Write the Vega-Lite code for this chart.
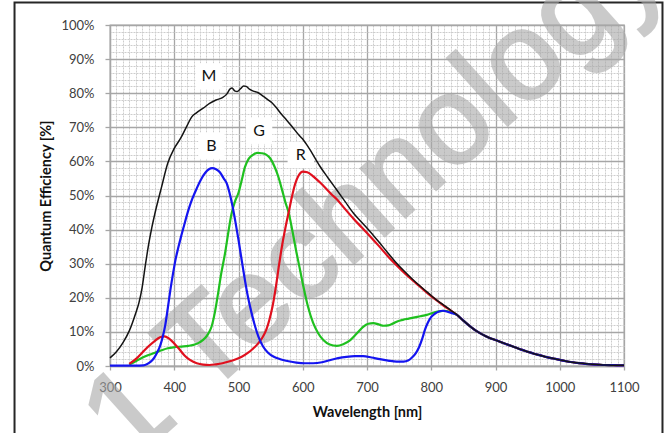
{
  "$schema": "https://vega.github.io/schema/vega-lite/v6.json",
  "width": 514,
  "height": 341,
  "autosize": {"type": "none"},
  "padding": {"left": 110, "top": 25, "right": 43, "bottom": 67},
  "background": "white",
  "config": {"view": {"stroke": "#a6a6a6", "strokeWidth": 1.3}},
  "datasets": {
    "one": [{"k": 1}],
    "labels": [
      {"L": "M", "w": 454, "q": 84.9},
      {"L": "B", "w": 458, "q": 64.6},
      {"L": "G", "w": 532, "q": 69},
      {"L": "R", "w": 597, "q": 61.9}
    ],
    "qe": [
      {"s":"M","w":300,"q":2.4},{"s":"M","w":310,"q":4.2},{"s":"M","w":320,"q":6.8},{"s":"M","w":330,"q":10.3},{"s":"M","w":340,"q":15.5},{"s":"M","w":345,"q":18.5},{"s":"M","w":350,"q":23},{"s":"M","w":355,"q":29.5},{"s":"M","w":360,"q":35.5},{"s":"M","w":365,"q":40.5},{"s":"M","w":370,"q":44.8},{"s":"M","w":380,"q":52.3},{"s":"M","w":390,"q":59.5},{"s":"M","w":400,"q":63.8},{"s":"M","w":410,"q":66.8},{"s":"M","w":420,"q":70.5},{"s":"M","w":427,"q":73},{"s":"M","w":435,"q":74.3},{"s":"M","w":445,"q":75.6},{"s":"M","w":455,"q":77},{"s":"M","w":465,"q":78},{"s":"M","w":475,"q":78.7},{"s":"M","w":482,"q":79.8},{"s":"M","w":487,"q":81.3},{"s":"M","w":490,"q":81.5},{"s":"M","w":494,"q":80.7},{"s":"M","w":498,"q":80.5},{"s":"M","w":503,"q":81.3},{"s":"M","w":508,"q":82.1},{"s":"M","w":512,"q":82},{"s":"M","w":517,"q":81.2},{"s":"M","w":523,"q":80.6},{"s":"M","w":530,"q":80.2},{"s":"M","w":537,"q":79.3},{"s":"M","w":545,"q":78.2},{"s":"M","w":552,"q":77.2},{"s":"M","w":560,"q":75.5},{"s":"M","w":567,"q":73.8},{"s":"M","w":575,"q":72.1},{"s":"M","w":585,"q":69.8},{"s":"M","w":595,"q":67.5},{"s":"M","w":601,"q":66.3},{"s":"M","w":610,"q":63.8},{"s":"M","w":620,"q":60.7},{"s":"M","w":627,"q":58.5},{"s":"M","w":640,"q":55},{"s":"M","w":653,"q":51.6},{"s":"M","w":666,"q":48.2},{"s":"M","w":679,"q":44.8},{"s":"M","w":692,"q":42.1},{"s":"M","w":705,"q":39.4},{"s":"M","w":718,"q":36.5},{"s":"M","w":731,"q":33.5},{"s":"M","w":744,"q":30.6},{"s":"M","w":757,"q":28},{"s":"M","w":770,"q":25.6},{"s":"M","w":783,"q":23.4},{"s":"M","w":796,"q":21.3},{"s":"M","w":808,"q":19.4},{"s":"M","w":820,"q":17.8},{"s":"M","w":830,"q":16.4},{"s":"M","w":840,"q":15},
      {"s":"M","w":850,"q":13.3},{"s":"M","w":860,"q":11.7},{"s":"M","w":870,"q":10.3},{"s":"M","w":880,"q":9.2},{"s":"M","w":890,"q":8.3},{"s":"M","w":900,"q":7.6},{"s":"M","w":910,"q":6.9},{"s":"M","w":920,"q":6.2},{"s":"M","w":930,"q":5.5},{"s":"M","w":940,"q":4.8},{"s":"M","w":950,"q":4.2},{"s":"M","w":960,"q":3.6},{"s":"M","w":970,"q":3.1},{"s":"M","w":980,"q":2.6},{"s":"M","w":990,"q":2.2},{"s":"M","w":1000,"q":1.8},{"s":"M","w":1010,"q":1.4},{"s":"M","w":1020,"q":1.1},{"s":"M","w":1030,"q":0.85},{"s":"M","w":1040,"q":0.65},{"s":"M","w":1050,"q":0.5},{"s":"M","w":1060,"q":0.4},{"s":"M","w":1070,"q":0.3},{"s":"M","w":1080,"q":0.25},{"s":"M","w":1090,"q":0.2},{"s":"M","w":1100,"q":0.2},
      {"s":"R","w":330,"q":0.6},{"s":"R","w":340,"q":2.0},{"s":"R","w":350,"q":3.9},{"s":"R","w":360,"q":5.8},{"s":"R","w":370,"q":7.4},{"s":"R","w":378,"q":8.4},{"s":"R","w":385,"q":8.7},{"s":"R","w":392,"q":8.0},{"s":"R","w":400,"q":6.6},{"s":"R","w":408,"q":4.9},{"s":"R","w":416,"q":3.1},{"s":"R","w":425,"q":1.7},{"s":"R","w":435,"q":0.8},{"s":"R","w":445,"q":0.4},{"s":"R","w":455,"q":0.3},{"s":"R","w":465,"q":0.5},{"s":"R","w":475,"q":0.8},{"s":"R","w":485,"q":1.3},{"s":"R","w":495,"q":1.9},{"s":"R","w":505,"q":2.7},{"s":"R","w":515,"q":3.9},{"s":"R","w":522,"q":5.0},{"s":"R","w":530,"q":6.5},{"s":"R","w":537,"q":8.3},{"s":"R","w":543,"q":10.5},{"s":"R","w":548,"q":13.5},{"s":"R","w":553,"q":17.5},{"s":"R","w":558,"q":23},{"s":"R","w":563,"q":29.5},{"s":"R","w":568,"q":35.5},{"s":"R","w":573,"q":40.5},{"s":"R","w":578,"q":45},{"s":"R","w":583,"q":49.5},{"s":"R","w":588,"q":53.3},{"s":"R","w":594,"q":56},{"s":"R","w":600,"q":57},{"s":"R","w":607,"q":56.8},{"s":"R","w":614,"q":56},{"s":"R","w":620,"q":55},{"s":"R","w":627,"q":53.8},{"s":"R","w":635,"q":52.3},{"s":"R","w":645,"q":50.3},{"s":"R","w":653,"q":48.9},{"s":"R","w":666,"q":46},{"s":"R","w":679,"q":43.2},{"s":"R","w":692,"q":40.6},{"s":"R","w":705,"q":38},{"s":"R","w":718,"q":35.3},{"s":"R","w":731,"q":32.5},{"s":"R","w":744,"q":29.9},{"s":"R","w":757,"q":27.5},{"s":"R","w":770,"q":25.3},{"s":"R","w":783,"q":23.2},{"s":"R","w":796,"q":21.1},{"s":"R","w":808,"q":19.3},{"s":"R","w":820,"q":17.6},{"s":"R","w":830,"q":16.3},{"s":"R","w":840,"q":15},
      {"s":"R","w":850,"q":13.3},{"s":"R","w":860,"q":11.7},{"s":"R","w":870,"q":10.3},{"s":"R","w":880,"q":9.2},{"s":"R","w":890,"q":8.3},{"s":"R","w":900,"q":7.6},{"s":"R","w":910,"q":6.9},{"s":"R","w":920,"q":6.2},{"s":"R","w":930,"q":5.5},{"s":"R","w":940,"q":4.8},{"s":"R","w":950,"q":4.2},{"s":"R","w":960,"q":3.6},{"s":"R","w":970,"q":3.1},{"s":"R","w":980,"q":2.6},{"s":"R","w":990,"q":2.2},{"s":"R","w":1000,"q":1.8},{"s":"R","w":1010,"q":1.4},{"s":"R","w":1020,"q":1.1},{"s":"R","w":1030,"q":0.85},{"s":"R","w":1040,"q":0.65},{"s":"R","w":1050,"q":0.5},{"s":"R","w":1060,"q":0.4},{"s":"R","w":1070,"q":0.3},{"s":"R","w":1080,"q":0.25},{"s":"R","w":1090,"q":0.2},{"s":"R","w":1100,"q":0.2},
      {"s":"G","w":330,"q":0.4},{"s":"G","w":340,"q":1.4},{"s":"G","w":350,"q":2.4},{"s":"G","w":360,"q":3.2},{"s":"G","w":370,"q":3.9},{"s":"G","w":380,"q":4.6},{"s":"G","w":390,"q":5.2},{"s":"G","w":400,"q":5.5},{"s":"G","w":411,"q":5.7},{"s":"G","w":422,"q":5.9},{"s":"G","w":432,"q":6.3},{"s":"G","w":440,"q":7},{"s":"G","w":448,"q":8.2},{"s":"G","w":453,"q":9.5},{"s":"G","w":458,"q":11.5},{"s":"G","w":463,"q":15.5},{"s":"G","w":468,"q":21},{"s":"G","w":473,"q":27},{"s":"G","w":479,"q":33},{"s":"G","w":484,"q":39},{"s":"G","w":489,"q":44.5},{"s":"G","w":495,"q":48.5},{"s":"G","w":500,"q":50.8},{"s":"G","w":505,"q":54.5},{"s":"G","w":510,"q":58.3},{"s":"G","w":516,"q":60.8},{"s":"G","w":523,"q":62},{"s":"G","w":530,"q":62.5},{"s":"G","w":536,"q":62.4},{"s":"G","w":543,"q":62},{"s":"G","w":549,"q":61},{"s":"G","w":556,"q":58.5},{"s":"G","w":562,"q":55.5},{"s":"G","w":568,"q":51.5},{"s":"G","w":573,"q":48},{"s":"G","w":578,"q":45},{"s":"G","w":584,"q":39.5},{"s":"G","w":590,"q":33.5},{"s":"G","w":596,"q":28},{"s":"G","w":601,"q":23.3},{"s":"G","w":608,"q":17.5},{"s":"G","w":616,"q":12.7},{"s":"G","w":624,"q":9.6},{"s":"G","w":632,"q":7.6},{"s":"G","w":642,"q":6.3},{"s":"G","w":653,"q":5.9},{"s":"G","w":663,"q":6.4},{"s":"G","w":674,"q":7.6},{"s":"G","w":684,"q":9.5},{"s":"G","w":694,"q":11.5},{"s":"G","w":702,"q":12.4},{"s":"G","w":710,"q":12.6},{"s":"G","w":718,"q":12.2},{"s":"G","w":726,"q":11.8},{"s":"G","w":733,"q":11.9},{"s":"G","w":741,"q":12.5},{"s":"G","w":749,"q":13.2},{"s":"G","w":757,"q":13.6},{"s":"G","w":765,"q":13.9},{"s":"G","w":772,"q":14.2},{"s":"G","w":783,"q":14.6},{"s":"G","w":793,"q":15},{"s":"G","w":803,"q":15.6},{"s":"G","w":812,"q":16},{"s":"G","w":820,"q":16.2},{"s":"G","w":830,"q":15.8},{"s":"G","w":840,"q":15},
      {"s":"G","w":850,"q":13.3},{"s":"G","w":860,"q":11.7},{"s":"G","w":870,"q":10.3},{"s":"G","w":880,"q":9.2},{"s":"G","w":890,"q":8.3},{"s":"G","w":900,"q":7.6},{"s":"G","w":910,"q":6.9},{"s":"G","w":920,"q":6.2},{"s":"G","w":930,"q":5.5},{"s":"G","w":940,"q":4.8},{"s":"G","w":950,"q":4.2},{"s":"G","w":960,"q":3.6},{"s":"G","w":970,"q":3.1},{"s":"G","w":980,"q":2.6},{"s":"G","w":990,"q":2.2},{"s":"G","w":1000,"q":1.8},{"s":"G","w":1010,"q":1.4},{"s":"G","w":1020,"q":1.1},{"s":"G","w":1030,"q":0.85},{"s":"G","w":1040,"q":0.65},{"s":"G","w":1050,"q":0.5},{"s":"G","w":1060,"q":0.4},{"s":"G","w":1070,"q":0.3},{"s":"G","w":1080,"q":0.25},{"s":"G","w":1090,"q":0.2},{"s":"G","w":1100,"q":0.2},
      {"s":"B","w":300,"q":0.1},{"s":"B","w":320,"q":0.1},{"s":"B","w":340,"q":0.1},{"s":"B","w":352,"q":0.2},{"s":"B","w":358,"q":0.6},{"s":"B","w":363,"q":1.2},{"s":"B","w":368,"q":2.2},{"s":"B","w":373,"q":3.8},{"s":"B","w":378,"q":5.9},{"s":"B","w":382,"q":8.5},{"s":"B","w":386,"q":12},{"s":"B","w":390,"q":17},{"s":"B","w":394,"q":22.3},{"s":"B","w":398,"q":27},{"s":"B","w":402,"q":31.2},{"s":"B","w":406,"q":34.5},{"s":"B","w":410,"q":37.5},{"s":"B","w":415,"q":41},{"s":"B","w":422,"q":45.7},{"s":"B","w":428,"q":49},{"s":"B","w":435,"q":52.1},{"s":"B","w":441,"q":54.5},{"s":"B","w":448,"q":56.6},{"s":"B","w":454,"q":57.7},{"s":"B","w":459,"q":58},{"s":"B","w":465,"q":57.7},{"s":"B","w":471,"q":56.8},{"s":"B","w":477,"q":55},{"s":"B","w":482,"q":53.4},{"s":"B","w":486,"q":50.8},{"s":"B","w":490,"q":47.5},{"s":"B","w":495,"q":42.5},{"s":"B","w":500,"q":37},{"s":"B","w":505,"q":31},{"s":"B","w":510,"q":25.2},{"s":"B","w":515,"q":20},{"s":"B","w":520,"q":15.8},{"s":"B","w":526,"q":11.5},{"s":"B","w":531,"q":8.6},{"s":"B","w":538,"q":5.8},{"s":"B","w":546,"q":3.9},{"s":"B","w":555,"q":2.7},{"s":"B","w":565,"q":2.0},{"s":"B","w":578,"q":1.4},{"s":"B","w":590,"q":1.0},{"s":"B","w":603,"q":0.8},{"s":"B","w":616,"q":0.8},{"s":"B","w":630,"q":1.1},{"s":"B","w":642,"q":1.7},{"s":"B","w":655,"q":2.3},{"s":"B","w":668,"q":2.7},{"s":"B","w":681,"q":2.9},{"s":"B","w":694,"q":2.9},{"s":"B","w":707,"q":2.5},{"s":"B","w":720,"q":2.0},{"s":"B","w":733,"q":1.6},{"s":"B","w":746,"q":1.3},{"s":"B","w":757,"q":1.3},{"s":"B","w":764,"q":1.6},{"s":"B","w":770,"q":2.5},{"s":"B","w":776,"q":3.8},{"s":"B","w":781,"q":5.5},{"s":"B","w":786,"q":8},{"s":"B","w":790,"q":10.5},{"s":"B","w":795,"q":12.8},{"s":"B","w":800,"q":14.4},{"s":"B","w":806,"q":15.4},{"s":"B","w":812,"q":16},{"s":"B","w":818,"q":16.2},{"s":"B","w":824,"q":16},{"s":"B","w":830,"q":15.6},{"s":"B","w":840,"q":15},
      {"s":"B","w":850,"q":13.3},{"s":"B","w":860,"q":11.7},{"s":"B","w":870,"q":10.3},{"s":"B","w":880,"q":9.2},{"s":"B","w":890,"q":8.3},{"s":"B","w":900,"q":7.6},{"s":"B","w":910,"q":6.9},{"s":"B","w":920,"q":6.2},{"s":"B","w":930,"q":5.5},{"s":"B","w":940,"q":4.8},{"s":"B","w":950,"q":4.2},{"s":"B","w":960,"q":3.6},{"s":"B","w":970,"q":3.1},{"s":"B","w":980,"q":2.6},{"s":"B","w":990,"q":2.2},{"s":"B","w":1000,"q":1.8},{"s":"B","w":1010,"q":1.4},{"s":"B","w":1020,"q":1.1},{"s":"B","w":1030,"q":0.85},{"s":"B","w":1040,"q":0.65},{"s":"B","w":1050,"q":0.5},{"s":"B","w":1060,"q":0.4},{"s":"B","w":1070,"q":0.3},{"s":"B","w":1080,"q":0.25},{"s":"B","w":1090,"q":0.2},{"s":"B","w":1100,"q":0.2}
    ]
  },
  "resolve": {"axis": {"x": "independent", "y": "independent"}},
  "layer": [
    {
      "data": {"name": "one"},
      "mark": {"type": "rect", "fill": null, "stroke": "#262626", "strokeWidth": 2},
      "encoding": {
        "x": {"datum": 151.4, "type": "quantitative", "scale": {"domain": [300, 1100], "nice": false, "zero": false}, "axis": null},
        "x2": {"datum": 1159.9},
        "y": {"datum": 106.6, "type": "quantitative", "scale": {"domain": [0, 100], "nice": false}, "axis": null},
        "y2": {"datum": -30}
      }
    },
    {
      "data": {"name": "one"},
      "mark": {"type": "text", "font": "Liberation Sans", "fontSize": 124, "angle": -42, "align": "center", "baseline": "alphabetic", "fill": "#a8a8a8", "stroke": "#a8a8a8", "strokeWidth": 3, "opacity": 0.6},
      "encoding": {
        "x": {"datum": 751, "type": "quantitative", "scale": {"domain": [300, 1100], "nice": false, "zero": false}, "axis": null},
        "y": {"datum": 42.2, "type": "quantitative", "scale": {"domain": [0, 100], "nice": false}, "axis": null},
        "text": {"value": "1 Technology"}
      }
    },
    {
      "data": {"name": "labels"},
      "mark": {"type": "point", "shape": "square", "size": 700, "filled": true, "color": "white", "opacity": 1, "strokeWidth": 0},
      "encoding": {
        "x": {"field": "w", "type": "quantitative", "scale": {"domain": [300, 1100], "nice": false, "zero": false},
          "axis": {"orient": "top", "values": [310,320,330,340,350,360,370,380,390,410,420,430,440,450,460,470,480,490,510,520,530,540,550,560,570,580,590,610,620,630,640,650,660,670,680,690,710,720,730,740,750,760,770,780,790,810,820,830,840,850,860,870,880,890,910,920,930,940,950,960,970,980,990,1010,1020,1030,1040,1050,1060,1070,1080,1090],
            "grid": true, "gridColor": "#cdcdcd", "gridDash": [2, 1], "gridWidth": 1, "labels": false, "ticks": false, "domain": false, "title": null}},
        "y": {"field": "q", "type": "quantitative", "scale": {"domain": [0, 100], "nice": false},
          "axis": {"orient": "right", "values": [2,4,6,8,12,14,16,18,22,24,26,28,32,34,36,38,42,44,46,48,52,54,56,58,62,64,66,68,72,74,76,78,82,84,86,88,92,94,96,98],
            "grid": true, "gridColor": "#cdcdcd", "gridDash": [2, 1], "gridWidth": 1, "labels": false, "ticks": false, "domain": false, "title": null}}
      }
    },
    {
      "data": {"name": "qe"},
      "transform": [{"filter": "datum.s == 'G'"}],
      "mark": {"type": "line", "color": "#1fc01f", "strokeWidth": 2.2, "interpolate": "monotone"},
      "encoding": {
        "x": {"field": "w", "type": "quantitative", "scale": {"domain": [300, 1100], "nice": false, "zero": false}, "axis": null},
        "y": {"field": "q", "type": "quantitative", "scale": {"domain": [0, 100], "nice": false}, "axis": null}
      }
    },
    {
      "data": {"name": "qe"},
      "transform": [{"filter": "datum.s == 'R'"}],
      "mark": {"type": "line", "color": "#e0101e", "strokeWidth": 2.2, "interpolate": "monotone"},
      "encoding": {
        "x": {"field": "w", "type": "quantitative", "scale": {"domain": [300, 1100], "nice": false, "zero": false}, "axis": null},
        "y": {"field": "q", "type": "quantitative", "scale": {"domain": [0, 100], "nice": false}, "axis": null}
      }
    },
    {
      "data": {"name": "qe"},
      "transform": [{"filter": "datum.s == 'B'"}],
      "mark": {"type": "line", "color": "#1414f0", "strokeWidth": 2.2, "interpolate": "monotone"},
      "encoding": {
        "x": {"field": "w", "type": "quantitative", "scale": {"domain": [300, 1100], "nice": false, "zero": false}, "axis": null},
        "y": {"field": "q", "type": "quantitative", "scale": {"domain": [0, 100], "nice": false}, "axis": null}
      }
    },
    {
      "data": {"name": "qe"},
      "transform": [{"filter": "datum.s == 'M'"}],
      "mark": {"type": "line", "color": "#141414", "strokeWidth": 1.5, "interpolate": "monotone"},
      "encoding": {
        "x": {"field": "w", "type": "quantitative", "scale": {"domain": [300, 1100], "nice": false, "zero": false},
          "axis": {"orient": "bottom", "values": [300,400,500,600,700,800,900,1000,1100], "format": "d", "title": "Wavelength [nm]",
            "grid": true, "gridColor": "#a6a6a6", "gridWidth": 1.3, "tickColor": "#a6a6a6", "tickSize": 4, "tickWidth": 1.3,
            "domainColor": "#a6a6a6", "domainWidth": 1.3, "labelPadding": 11, "labelFont": "Lato", "labelFontSize": 13, "labelColor": "#404040",
            "labelFlush": false, "labelOverlap": false, "titleFont": "Lato", "titleFontSize": 14.5, "titleFontWeight": "bold", "titleColor": "#111111",
            "titleY": 46, "titleBaseline": "middle"}},
        "y": {"field": "q", "type": "quantitative", "scale": {"domain": [0, 100], "nice": false},
          "axis": {"orient": "left", "values": [0,10,20,30,40,50,60,70,80,90,100], "labelExpr": "datum.value + '%'", "title": "Quantum Efficiency [%]",
            "grid": true, "gridColor": "#a6a6a6", "gridWidth": 1.3, "tickColor": "#a6a6a6", "tickSize": 5, "tickWidth": 1.3,
            "domainColor": "#a6a6a6", "domainWidth": 1.3, "labelPadding": 11, "labelFont": "Lato", "labelFontSize": 13, "labelColor": "#404040",
            "labelFlush": false, "labelOverlap": false, "titleFont": "Lato", "titleFontSize": 14.5, "titleFontWeight": "bold", "titleColor": "#111111",
            "titleX": -64, "titleY": 170.5, "titleAngle": 270, "titleBaseline": "middle", "titleAlign": "center"}}
      }
    },
    {
      "data": {"name": "labels"},
      "mark": {"type": "text", "font": "Lato", "fontSize": 16, "color": "#111111", "align": "center", "baseline": "middle"},
      "encoding": {
        "x": {"field": "w", "type": "quantitative", "scale": {"domain": [300, 1100], "nice": false, "zero": false}, "axis": null},
        "y": {"field": "q", "type": "quantitative", "scale": {"domain": [0, 100], "nice": false}, "axis": null},
        "text": {"field": "L"}
      }
    }
  ]
}
